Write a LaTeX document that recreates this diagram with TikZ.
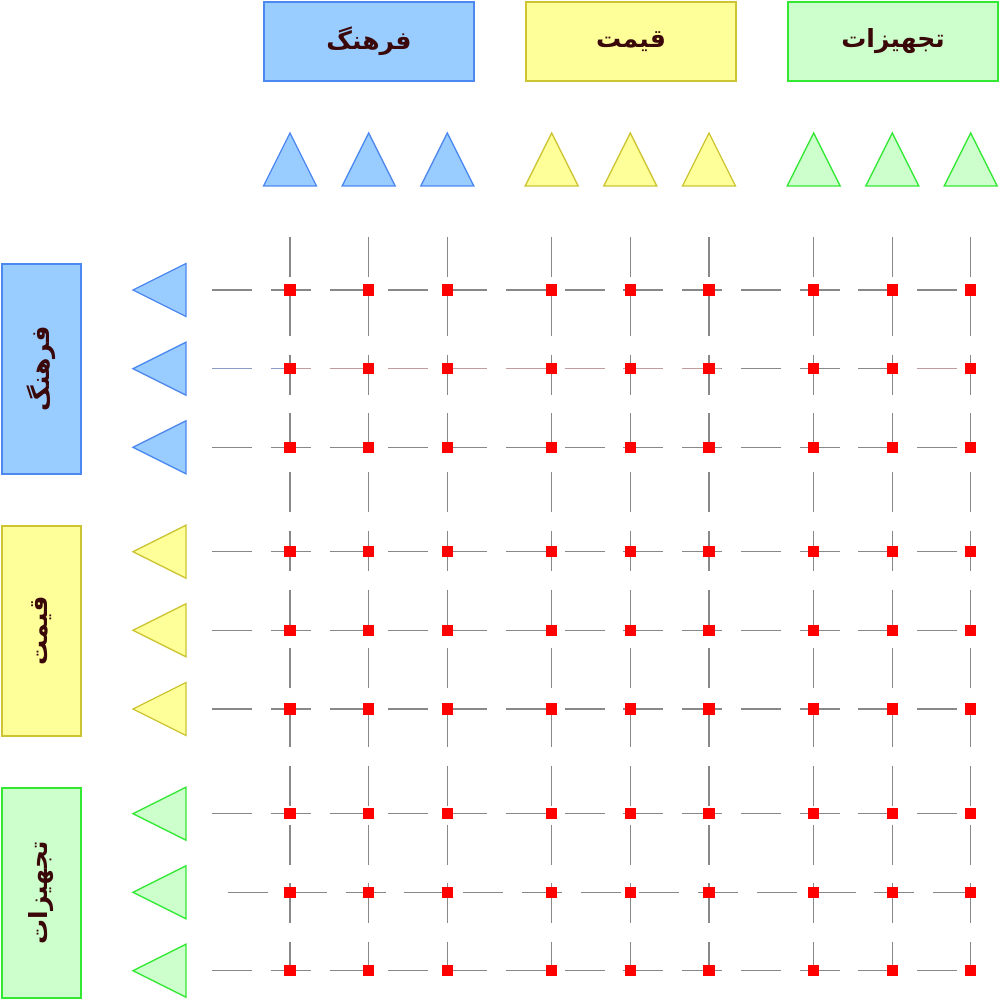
\documentclass[tikz,border=0pt]{standalone}
\usepackage{fontspec}
\newfontfamily\arabicfont[Script=Arabic]{DejaVu Sans}
\TeXXeTstate=1
\definecolor{blueF}{HTML}{99CCFF}
\definecolor{blueD}{HTML}{4D88F0}
\definecolor{yelF}{HTML}{FFFF99}
\definecolor{yelD}{HTML}{CCC433}
\definecolor{grnF}{HTML}{CCFFCC}
\definecolor{grnD}{HTML}{33E833}
\definecolor{txtC}{HTML}{3A0808}
\definecolor{lineG}{HTML}{888888}
\definecolor{tintB}{HTML}{8C9CC4}
\definecolor{tintR}{HTML}{C09C9C}
\begin{document}
\begin{tikzpicture}[x=1pt,y=-1pt,
  gridline/.style={draw=lineG, line width=1.5pt, dash pattern=on 40pt off 18.75pt},
  sq/.style={fill=red, draw=none, minimum size=11.5pt, inner sep=0pt},
  lbl/.style={line width=1.8pt, inner sep=0pt, text=txtC,
     font=\arabicfont\bfseries\fontsize{25}{29}\selectfont},
  topbox/.style={lbl, minimum width=210pt, minimum height=79pt},
  sidebox/.style={lbl, rotate=90, minimum width=210pt, minimum height=79pt},
  tri/.style={line width=1.3pt, line join=miter}]
\useasboundingbox (0,0) rectangle (1000,1000);

% category boxes
\node[topbox, fill=blueF, draw=blueD] (tF) at (369,41.5) {\beginR فرهنگ\endR};
\node[topbox, fill=yelF, draw=yelD] (tQ) at (631,41.5) {\beginR قیمت\endR};
\node[topbox, fill=grnF, draw=grnD] (tT) at (893,41.5) {\beginR تجهیزات\endR};
\node[sidebox, fill=blueF, draw=blueD] (sF) at (41.5,369) {\beginR فرهنگ\endR};
\node[sidebox, fill=yelF, draw=yelD] (sQ) at (41.5,631) {\beginR قیمت\endR};
\node[sidebox, fill=grnF, draw=grnD] (sT) at (41.5,893) {\beginR تجهیزات\endR};

% triangles
\foreach \x/\f/\d in {290/blueF/blueD,368.7/blueF/blueD,447.3/blueF/blueD,
                      551.7/yelF/yelD,630.3/yelF/yelD,709/yelF/yelD,
                      813.7/grnF/grnD,892.3/grnF/grnD,970.7/grnF/grnD}{
  \draw[tri, fill=\f, draw=\d] (\x-26.5,186) -- (\x,133) -- (\x+26.5,186) -- cycle;
}
\foreach \y/\f/\d in {290/blueF/blueD,368.7/blueF/blueD,447.3/blueF/blueD,
                      551.7/yelF/yelD,630.3/yelF/yelD,709/yelF/yelD,
                      813.7/grnF/grnD,892.3/grnF/grnD,970.7/grnF/grnD}{
  \draw[tri, fill=\f, draw=\d] (186,\y-26.5) -- (133,\y) -- (186,\y+26.5) -- cycle;
}

% grid coordinates
\foreach \r/\y in {1/290,2/368.7,3/447.3,4/551.7,5/630.3,6/709,7/813.7,8/892.3,9/970.7}{
  \foreach \c/\x in {1/290,2/368.7,3/447.3,4/551.7,5/630.3,6/709,7/813.7,8/892.3,9/970.7}{
    \coordinate (p\r-\c) at (\x,\y);
  }
}
\foreach \r/\y in {1/290,2/368.7,3/447.3,4/551.7,5/630.3,6/709,7/813.7,9/970.7}{
  \coordinate (hs\r) at (212,\y);
}
\coordinate (hs8) at (228,892.3);
\foreach \c/\x in {1/290,2/368.7,3/447.3,4/551.7,5/630.3,6/709,7/813.7,8/892.3,9/970.7}{
  \coordinate (vs\c) at (\x,237);
}

% grid lines
\foreach \c in {1,...,9}{ \draw[gridline] (vs\c) -- (p9-\c); }
\foreach \r in {1,...,9}{ \draw[gridline] (hs\r) -- (p\r-9); }
% tinted overlay on second row
\coordinate (t1) at (290,368.7);
\coordinate (t2) at (721,368.7);
\coordinate (t3) at (917,368.7);
\coordinate (t4) at (957,368.7);
\draw[gridline, draw=tintB] (hs2) -- (t1);
\draw[gridline, draw=tintR, dash phase=78pt] (t1) -- (t2);
\draw[gridline, draw=tintR] (t3) -- (t4);

% red squares
\foreach \r in {1,...,9}{
  \foreach \c in {1,...,9}{
    \node[sq] (sq\r-\c) at (p\r-\c) {};
  }
}
\end{tikzpicture}
\end{document}
